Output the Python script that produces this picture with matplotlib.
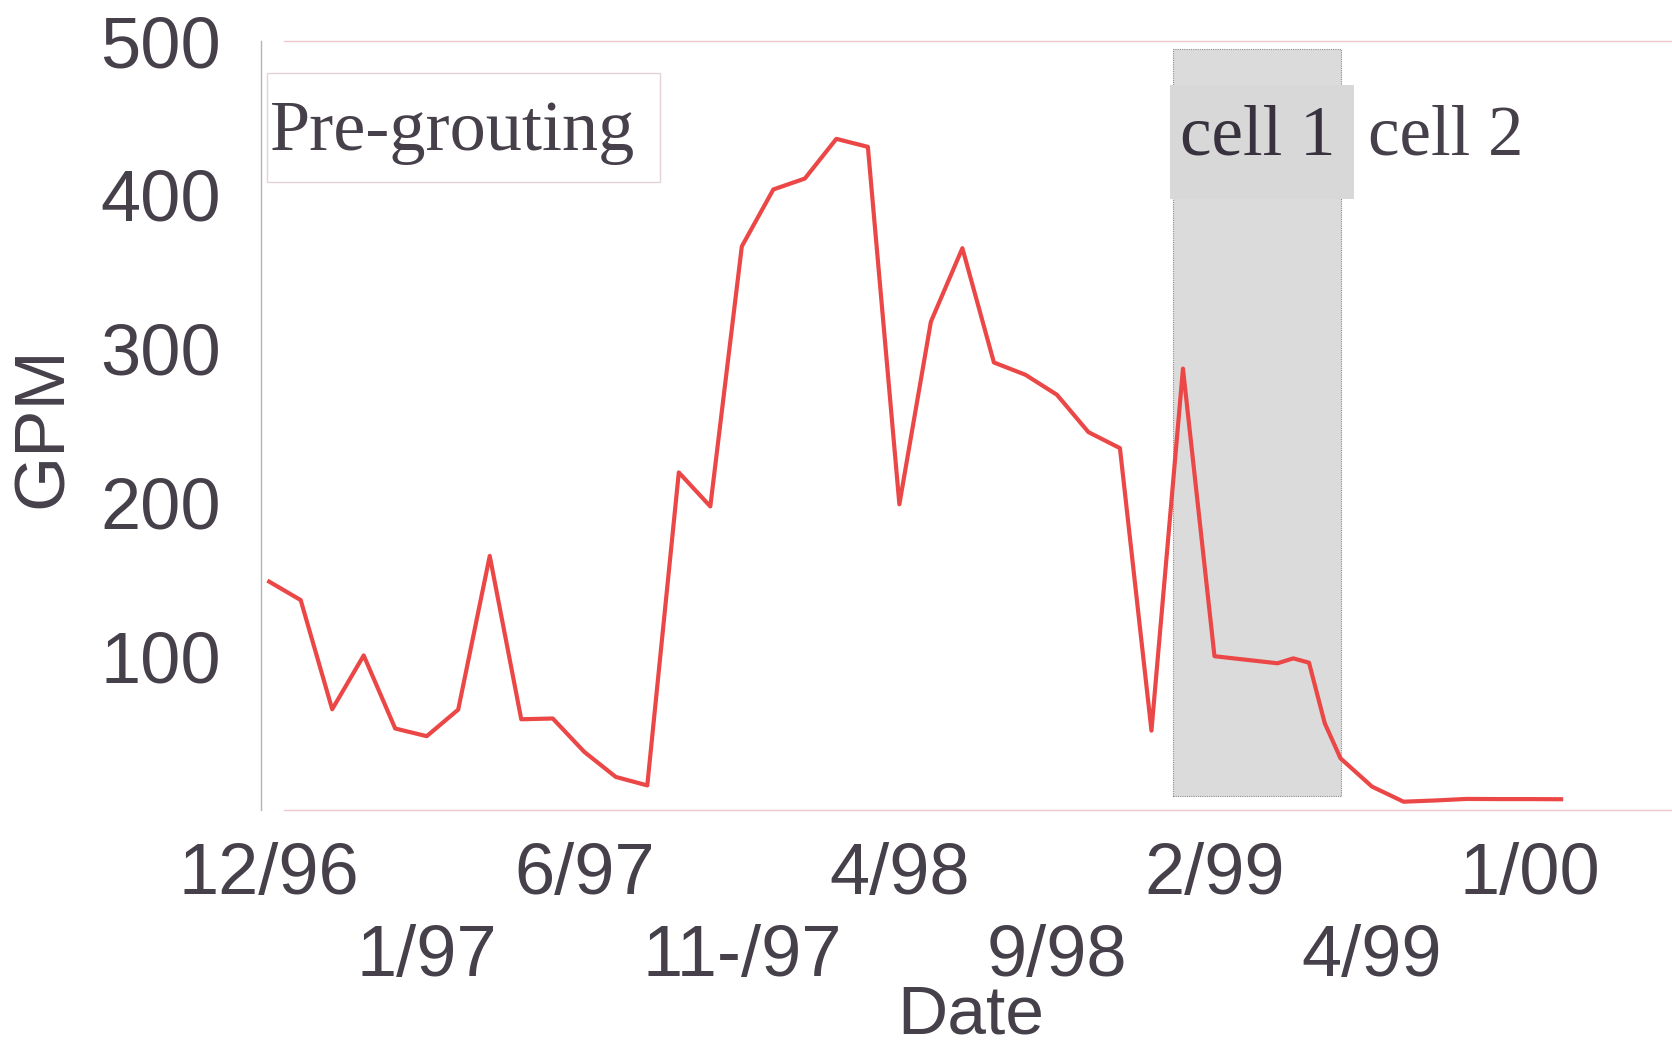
import matplotlib
matplotlib.use("Agg")
import matplotlib.pyplot as plt
from matplotlib.patches import Rectangle

# sample number along the record (ticks every 5th sample) and flow in GPM
sample = [0, 1, 2, 3, 4, 5, 6, 7, 8, 9, 10, 11, 12, 13, 14, 15, 16, 17, 18, 19,
          20, 21, 22, 23, 24, 25, 26, 27, 28, 29, 30, 31, 32, 32.5, 33, 33.5,
          34, 35, 36, 37, 38, 39, 40, 41]
gpm = [148.5, 136.5, 65.5, 100.5, 53, 48, 65.3, 165.2, 59, 59.5,
       37.8, 21.5, 16, 219.5, 197.4, 366.5, 403.5, 410.6, 436.4, 431.2,
       198.8, 317.5, 365.3, 291, 283, 270, 245.7, 235.3, 51.6, 287,
       100, 97.7, 95.4, 98.6, 95.8, 56.4, 33.6, 15.2, 5.4, 6.2,
       7.2, 7.1, 7.1, 7.0]

tick_pos = [0, 5, 10, 15, 20, 25, 30, 35, 40]
tick_labels = ["12/96", "1/97", "6/97", "11-/97", "4/98", "9/98", "2/99", "4/99", "1/00"]
y_ticks = [100, 200, 300, 400, 500]

# grouting period for cell 1 (shaded)
cell1_span = (28.68, 34.03)

TXT = "#46404a"
LINE = "#ec4747"
SANS = ["Liberation Sans", "DejaVu Sans"]
SERIF = ["Liberation Serif", "DejaVu Serif"]

fig = plt.figure(figsize=(16.72, 10.58), dpi=100)
ax = fig.add_axes([0.1562, 0.2344, 0.8438, 0.7268])

ax.set_xlim(-0.254, 44.52)
ax.set_ylim(0, 500)

# shaded cell 1 region
ax.add_patch(Rectangle((cell1_span[0], 9), cell1_span[1] - cell1_span[0], 486,
                       facecolor="#dbdbdb", edgecolor="#8a8a8a", linewidth=0.8,
                       linestyle=(0, (1, 1)), zorder=1))

ax.plot(sample, gpm, color=LINE, linewidth=3.0, zorder=3)

# annotations
ax.add_patch(Rectangle((-0.08, 408.6), 12.48, 70.4, facecolor="white",
                       edgecolor="#e2d2d6", linewidth=1, zorder=2))
ax.text(0.04, 429, "Pre-grouting", family=SERIF, fontsize=52, color=TXT,
        va="baseline", ha="left", zorder=4)

ax.add_patch(Rectangle((28.6, 397), 5.83, 74.4, facecolor="#d8d8d8",
                       edgecolor="none", zorder=2))
ax.text(28.9, 426.5, "cell 1", family=SERIF, fontsize=51, color="#38313e",
        va="baseline", ha="left", zorder=4)
ax.text(34.87, 426.5, "cell 2", family=SERIF, fontsize=51, color=TXT,
        va="baseline", ha="left", zorder=4)

# axes styling
ax.spines["right"].set_visible(False)
ax.spines["left"].set_color("#b4b4b4")
ax.spines["left"].set_linewidth(1)
for s in ("top", "bottom"):
    ax.spines[s].set_color("#f2c6ce")
    ax.spines[s].set_linewidth(1)
    ax.spines[s].set_bounds(0.47, 44.52)

ax.set_yticks(y_ticks)
ax.set_yticklabels([str(v) for v in y_ticks], family=SANS, fontsize=52, color=TXT)
ax.tick_params(axis="y", length=0, pad=29)

ax.set_xticks(tick_pos[0::2])
ax.set_xticklabels(tick_labels[0::2], family=SANS, fontsize=52, color=TXT)
ax.set_xticks(tick_pos[1::2], minor=True)
ax.set_xticklabels(tick_labels[1::2], minor=True, family=SANS, fontsize=52, color=TXT)
ax.tick_params(axis="x", which="major", length=0, pad=23)
ax.tick_params(axis="x", which="minor", length=0, pad=82)

fig.text(44 / 1672, 1 - 427 / 1058, "GPM", rotation=90, family=SANS, fontsize=51,
         color=TXT, ha="center", va="center")
fig.text(971 / 1672, 1 - 1015 / 1058, "Date", family=SANS, fontsize=50,
         color=TXT, ha="center", va="center")

fig.savefig("out.png", dpi=100)
plt.close(fig)
